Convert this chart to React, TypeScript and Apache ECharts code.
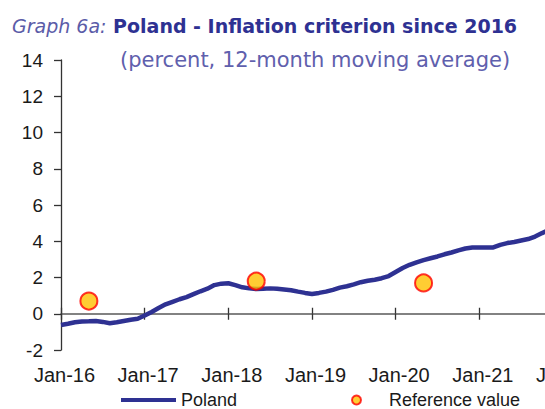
import React, { useEffect, useRef } from "react";
import * as echarts from "echarts";

const monthNames = ["Jan", "Feb", "Mar", "Apr", "May", "Jun", "Jul", "Aug", "Sep", "Oct", "Nov", "Dec"];
const years = ["16", "17", "18", "19", "20", "21"];
const categories: string[] = [];
years.forEach((y) => monthNames.forEach((m) => categories.push(`${m}-${y}`)));
categories.push("Jan-22");

// Poland HICP inflation, 12-month moving average, monthly from Jan-16
const polandValues = [
  -0.62, -0.55, -0.47, -0.43, -0.42, -0.4, -0.45, -0.52, -0.47, -0.4, -0.33, -0.28,
  -0.1, 0.1, 0.32, 0.52, 0.66, 0.8, 0.92, 1.08, 1.24, 1.38, 1.58, 1.66,
  1.68, 1.58, 1.46, 1.4, 1.36, 1.38, 1.4, 1.38, 1.34, 1.3, 1.22, 1.15,
  1.09, 1.15, 1.22, 1.32, 1.44, 1.52, 1.62, 1.74, 1.82, 1.88, 1.96, 2.08,
  2.3, 2.52, 2.7, 2.84, 2.96, 3.06, 3.16, 3.28, 3.38, 3.5, 3.6, 3.66,
  3.66, 3.66, 3.66, 3.8, 3.9, 3.96, 4.04, 4.12, 4.26, 4.45, 4.62,
];

const refDates = ["May-16", "May-18", "May-20"];
const refValues = [0.7, 1.8, 1.7];

const yMin = -2;
const yMax = 14;
const yStep = 2;

export default function App() {
  const ref = useRef<HTMLDivElement>(null);
  useEffect(() => {
    if (!ref.current) return;
    const chart = echarts.init(ref.current, undefined, { renderer: "svg" });
    const axisFont = "'Liberation Sans', Arial, sans-serif";
    const titleFont = "'DejaVu Sans', sans-serif";
    chart.setOption({
      animation: false,
      backgroundColor: "#ffffff",
      title: [
        {
          text: "{a|Graph 6a:} {b|Poland - Inflation criterion since 2016}",
          left: 12,
          top: 16.5,
          padding: 0,
          textStyle: {
            fontFamily: titleFont,
            fontSize: 19,
            lineHeight: 19,
            color: "#2e3192",
            rich: {
              a: { fontFamily: titleFont, fontStyle: "italic", fontSize: 19, lineHeight: 19, color: "#5b5ca8", fontWeight: "normal" },
              b: { fontFamily: titleFont, fontWeight: "bold", fontSize: 19, lineHeight: 19, color: "#2e3192" },
            },
          },
        },
        {
          text: "(percent, 12-month moving average)",
          left: 120,
          top: 49.5,
          padding: 0,
          textStyle: { fontFamily: titleFont, fontSize: 21, lineHeight: 21, fontWeight: "normal", color: "#5f60ad" },
        },
      ],
      legend: [
        {
          data: [{ name: "Poland", icon: "rect" }],
          left: 121,
          top: 391,
          padding: 0,
          itemWidth: 55,
          itemHeight: 4,
          textStyle: { fontFamily: axisFont, fontSize: 18, lineHeight: 18, color: "#1a1a1a" },
        },
        {
          data: ["Reference value"],
          left: 351,
          top: 391,
          padding: 0,
          itemWidth: 55,
          itemHeight: 9,
          textStyle: { fontFamily: axisFont, fontSize: 18, lineHeight: 18, color: "#1a1a1a" },
        },
      ],
      grid: { left: 61, right: 57, top: 60, bottom: 59, containLabel: false },
      xAxis: [
        {
          type: "category",
          data: categories,
          boundaryGap: false,
          position: "bottom",
          axisLine: { show: false, onZero: false },
          axisTick: { show: false },
          axisLabel: {
            interval: 11,
            margin: 15,
            fontFamily: axisFont,
            fontSize: 20,
            color: "#1a1a1a",
            padding: [0, 0, 0, 7],
          },
          splitLine: { show: false },
        },
        {
          type: "category",
          data: categories,
          boundaryGap: false,
          position: "bottom",
          axisLine: { show: true, onZero: true, lineStyle: { color: "#595959", width: 1.5 } },
          axisTick: { show: true, interval: 11, length: 6, inside: false, lineStyle: { color: "#333333", width: 1.3 } },
          axisLabel: { show: false },
          splitLine: { show: false },
        },
        {
          type: "category",
          data: categories,
          boundaryGap: false,
          position: "bottom",
          axisLine: { show: false, onZero: true },
          axisTick: { show: true, interval: 11, length: 6, inside: true, lineStyle: { color: "#333333", width: 1.3 } },
          axisLabel: { show: false },
          splitLine: { show: false },
        },
      ],
      yAxis: [
        {
          type: "value",
          min: yMin,
          max: yMax,
          interval: yStep,
          position: "left",
          axisLine: { show: true, onZero: false, lineStyle: { color: "#333333", width: 1.3 } },
          axisTick: { show: true, length: 7, lineStyle: { color: "#333333", width: 1.3 } },
          axisLabel: { margin: 18, fontFamily: axisFont, fontSize: 19, color: "#1a1a1a" },
          splitLine: { show: false },
        },
        {
          type: "value",
          min: yMin,
          max: yMax,
          interval: yStep,
          show: false,
          axisLine: { onZero: false },
          splitLine: { show: false },
        },
      ],
      series: [
        {
          name: "Poland",
          type: "line",
          xAxisIndex: 0,
          yAxisIndex: 0,
          data: polandValues,
          symbol: "none",
          showSymbol: false,
          lineStyle: { color: "#2e3192", width: 4.5 },
          itemStyle: { color: "#2e3192" },
          z: 3,
        },
        {
          name: "Reference value",
          type: "scatter",
          xAxisIndex: 0,
          yAxisIndex: 0,
          data: refDates.map((d, i) => [d, refValues[i]]),
          symbol: "circle",
          symbolSize: 17,
          itemStyle: { color: "#ffc000", borderColor: "#ff0000", borderWidth: 2 },
          z: 4,
        },
      ],
    });
    return () => chart.dispose();
  }, []);
  return (
    <div style={{ position: "fixed", left: 0, top: 0, width: 545, height: 409, overflow: "hidden" }}>
      <div ref={ref} style={{ width: 620, height: 409 }} />
    </div>
  );
}
